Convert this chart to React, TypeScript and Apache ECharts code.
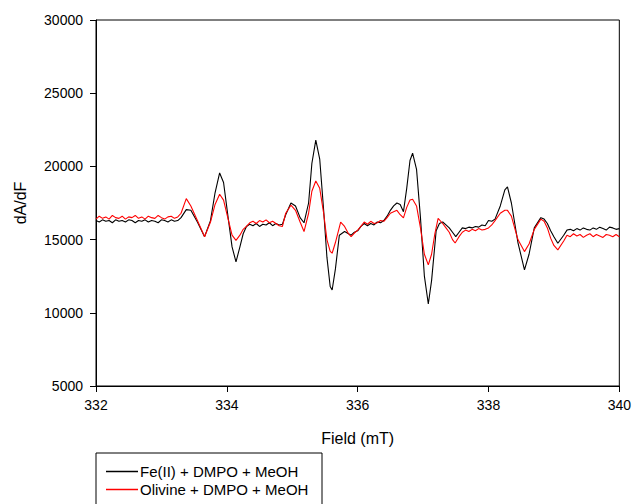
import React, { useEffect, useRef } from "react";
import * as echarts from "echarts";

const fieldFe: number[] = [
  332.00, 332.05, 332.10, 332.15, 332.20, 332.25, 332.30, 332.35, 332.40, 332.45, 332.50, 332.55, 332.60, 332.65,
  332.70, 332.75, 332.80, 332.85, 332.90, 332.95, 333.00, 333.05, 333.10, 333.15, 333.20, 333.25,
  333.30, 333.38, 333.45, 333.55, 333.66, 333.75, 333.82, 333.89, 333.95, 334.02, 334.08, 334.14, 334.20, 334.25,
  334.30, 334.35, 334.40, 334.45, 334.50, 334.55, 334.60, 334.65, 334.70, 334.75, 334.80, 334.85,
  334.90, 334.98, 335.05, 335.12, 335.18, 335.25, 335.30, 335.36, 335.42, 335.48, 335.53, 335.58, 335.61, 335.66,
  335.72, 335.80, 335.86,
  335.90, 335.95, 336.00, 336.05, 336.10, 336.15, 336.20, 336.25, 336.30, 336.35, 336.40,
  336.45, 336.50, 336.55, 336.60, 336.65, 336.70, 336.75, 336.80, 336.84, 336.90, 336.96, 337.02, 337.08, 337.13,
  337.20, 337.25, 337.30, 337.35, 337.40, 337.45, 337.50, 337.55,
  337.60, 337.65, 337.70, 337.75, 337.80, 337.85, 337.90, 337.95, 338.00,
  338.05, 338.10, 338.18, 338.25, 338.29, 338.35, 338.45, 338.55, 338.62, 338.70, 338.80, 338.85, 338.90, 338.95,
  339.00, 339.06, 339.15,
  339.20, 339.25, 339.30, 339.35, 339.40, 339.45, 339.50, 339.55, 339.60, 339.65, 339.70, 339.75, 339.80, 339.85,
  339.90, 339.95, 340.00,
];
const valuesFe: number[] = [
  16300, 16200, 16350, 16250, 16300, 16150, 16350, 16250, 16300, 16200, 16350, 16300, 16150, 16300,
  16250, 16350, 16200, 16300, 16250, 16150, 16350, 16300, 16200, 16350, 16250, 16300,
  16500, 17050, 17000, 16200, 15200, 16300, 18200, 19550, 18900, 16500, 14500, 13480, 14500, 15400,
  15900, 16050, 15950, 16100, 15900, 16050, 16000, 16150, 15950, 16100, 16000, 16050,
  16700, 17500, 17300, 16500, 16150, 17500, 20200, 21800, 20500, 17000, 13800, 11800, 11560, 13000,
  15300, 15550, 15400,
  15300, 15500, 15600, 15900, 16100, 15950, 16100, 16000, 16200, 16150, 16300,
  16600, 17000, 17300, 17500, 17400, 16900, 18500, 20400, 20900, 19800, 16500, 12500, 10600, 12200,
  15600, 16100, 16200, 16000, 15800, 15500, 15200, 15500,
  15800, 15750, 15850, 15800, 15900, 15850, 16000, 15950, 16300,
  16250, 16400, 17300, 18400, 18600, 17500, 14800, 12930, 14000, 15800, 16500, 16400, 16100, 15600,
  15200, 14750, 15300,
  15650, 15700, 15600, 15750, 15650, 15800, 15700, 15650, 15800, 15700, 15850, 15750, 15650, 15850,
  15800, 15700, 15750,
];

const fieldOl: number[] = [
  332.00, 332.05, 332.10, 332.15, 332.20, 332.25, 332.30, 332.35, 332.40, 332.45, 332.50, 332.55, 332.60, 332.65,
  332.70, 332.75, 332.80, 332.85, 332.90, 332.95, 333.00, 333.05, 333.10, 333.15, 333.20, 333.25,
  333.30, 333.38, 333.45, 333.55, 333.66, 333.75, 333.82, 333.89, 333.95, 334.02, 334.08, 334.14, 334.20, 334.25,
  334.30, 334.35, 334.40, 334.45, 334.50, 334.55, 334.60, 334.65, 334.70, 334.75, 334.80, 334.85,
  334.90, 334.98, 335.05, 335.12, 335.18, 335.25, 335.30, 335.36, 335.42, 335.48, 335.53, 335.58, 335.61, 335.66,
  335.74, 335.80, 335.86,
  335.90, 335.95, 336.00, 336.05, 336.10, 336.15, 336.20, 336.25, 336.30, 336.35, 336.40,
  336.45, 336.50, 336.55, 336.60, 336.65, 336.70, 336.75, 336.80, 336.84, 336.90, 336.96, 337.02, 337.08, 337.13,
  337.18, 337.23, 337.30, 337.35, 337.40, 337.45, 337.49, 337.55,
  337.60, 337.65, 337.70, 337.75, 337.80, 337.85, 337.90, 337.95, 338.00,
  338.05, 338.10, 338.18, 338.25, 338.29, 338.35, 338.45, 338.55, 338.62, 338.70, 338.80, 338.85, 338.90, 338.95,
  339.00, 339.06, 339.15,
  339.20, 339.25, 339.30, 339.35, 339.40, 339.45, 339.50, 339.55, 339.60, 339.65, 339.70, 339.75, 339.80, 339.85,
  339.90, 339.95, 340.00,
];
const valuesOl: number[] = [
  16400, 16600, 16450, 16550, 16400, 16650, 16500, 16450, 16600, 16400, 16550, 16500, 16650, 16450,
  16550, 16400, 16600, 16500, 16450, 16650, 16500, 16400, 16550, 16600, 16450, 16550,
  16800, 17800, 17300, 16300, 15200, 16200, 17400, 18100, 17700, 16400, 15300, 14950, 15300, 15700,
  15900, 16150, 16250, 16100, 16300, 16200, 16350, 16150, 16250, 16100, 15950, 15900,
  16800, 17350, 17000, 16200, 15550, 16800, 18300, 19000, 18500, 16800, 15000, 14200, 14070, 14800,
  16200, 15900, 15400,
  15200, 15450, 15650, 15900, 16200, 16050, 16250, 16100, 16150, 16300, 16250,
  16500, 16800, 16900, 17000, 16700, 16480, 17200, 17700, 17750, 17300, 15800, 14000, 13270, 14000,
  15400, 16450, 16100, 15800, 15500, 15000, 14770, 15200,
  15500, 15650, 15550, 15700, 15600, 15750, 15650, 15700, 15800,
  16000, 16300, 16800, 17000, 17000, 16600, 15000, 14180, 14700, 15700, 16400, 16250, 15800, 15100,
  14600, 14300, 14900,
  15300, 15200, 15400, 15250, 15350, 15150, 15300, 15400, 15200, 15350, 15250, 15150, 15350, 15300,
  15200, 15350, 15200,
];

const seriesNames: string[] = ["Fe(II) + DMPO + MeOH", "Olivine + DMPO + MeOH"];
const seriesColors: string[] = ["#000000", "#ff0000"];

export default function App() {
  const ref = useRef<HTMLDivElement>(null);
  useEffect(() => {
    if (!ref.current) return;
    const chart = echarts.init(ref.current, undefined, { renderer: "svg" });
    const font = "Liberation Sans, Arial, sans-serif";
    const legendCommon = {
      orient: "horizontal",
      left: 106,
      padding: 0,
      itemWidth: 32,
      itemHeight: 1.5,
      itemGap: 4,
      icon: "rect",
      textStyle: { fontSize: 15, color: "#000", fontFamily: font, padding: [0, 0, 0, -3] },
    };
    chart.setOption({
      animation: false,
      backgroundColor: "#fff",
      grid: { left: 96, right: 13, top: 20, bottom: 118, show: true, borderColor: "#000", borderWidth: 1, backgroundColor: "transparent" },
      xAxis: {
        type: "value",
        min: 332,
        max: 340,
        interval: 2,
        name: "Field (mT)",
        nameLocation: "middle",
        nameGap: 44,
        nameTextStyle: { fontSize: 16, color: "#000", fontFamily: font },
        axisLine: { lineStyle: { color: "#000", width: 1 } },
        axisTick: { show: true, length: 6, lineStyle: { color: "#000" } },
        axisLabel: { fontSize: 14, color: "#000", fontFamily: font, margin: 12 },
        splitLine: { show: false },
      },
      yAxis: {
        type: "value",
        min: 5000,
        max: 30000,
        interval: 5000,
        name: "dA/dF",
        nameLocation: "middle",
        nameGap: 68,
        nameTextStyle: { fontSize: 16, color: "#000", fontFamily: font },
        axisLine: { show: true, lineStyle: { color: "#000", width: 1 } },
        axisTick: { show: true, length: 6, lineStyle: { color: "#000" } },
        axisLabel: { fontSize: 14, color: "#000", fontFamily: font, margin: 13, formatter: (v: number) => String(v) },
        splitLine: { show: false },
      },
      legend: [
        { ...legendCommon, top: 464, data: [seriesNames[0]] },
        { ...legendCommon, top: 482, data: [seriesNames[1]] },
      ],
      graphic: [
        {
          type: "rect",
          shape: { x: 96, y: 453, width: 226, height: 60 },
          style: { fill: "none", stroke: "#000", lineWidth: 1 },
          silent: true,
        },
      ],
      series: [
        {
          name: seriesNames[0],
          type: "line",
          data: fieldFe.map((f, i) => [f, valuesFe[i]]),
          showSymbol: false,
          symbol: "none",
          lineStyle: { color: seriesColors[0], width: 1.1 },
          itemStyle: { color: seriesColors[0] },
          z: 2,
        },
        {
          name: seriesNames[1],
          type: "line",
          data: fieldOl.map((f, i) => [f, valuesOl[i]]),
          showSymbol: false,
          symbol: "none",
          lineStyle: { color: seriesColors[1], width: 1.1 },
          itemStyle: { color: seriesColors[1] },
          z: 3,
        },
      ],
    });
    return () => chart.dispose();
  }, []);
  return <div ref={ref} style={{ width: 634, height: 504, position: "absolute", left: 0, top: 0 }} />;
}
